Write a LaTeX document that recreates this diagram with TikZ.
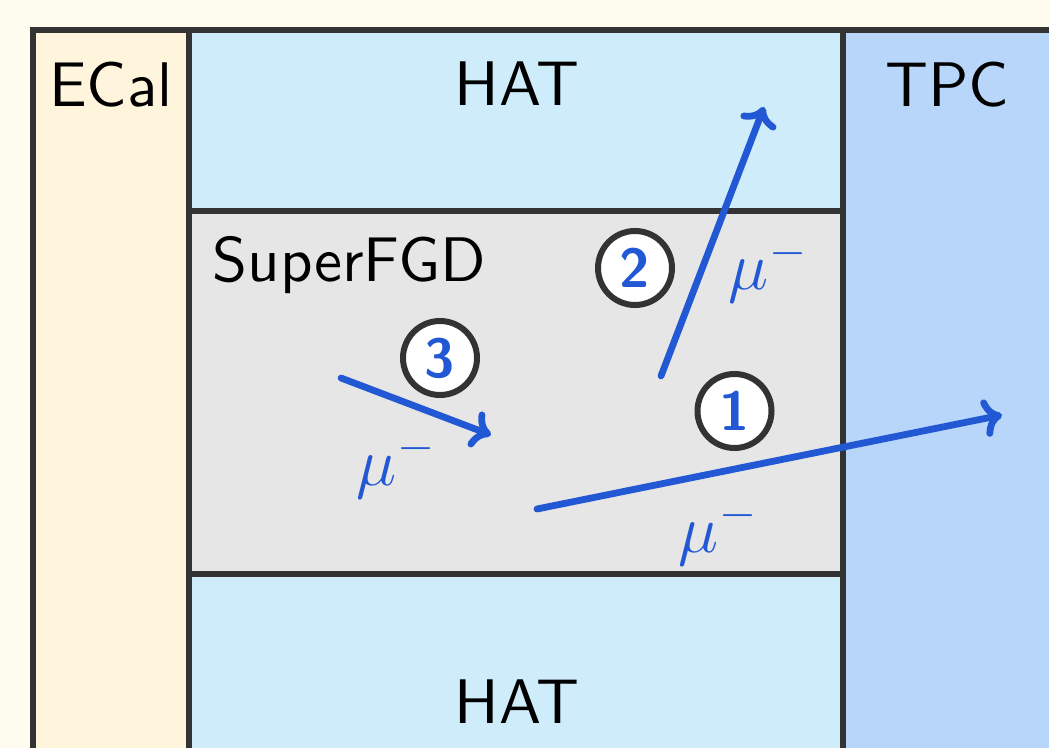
\RequirePackage{fix-cm}
\documentclass[tikz,border=0pt]{standalone}
\usepackage{fontspec}
\setsansfont{lmsans10-regular.otf}[BoldFont=lmsans10-bold.otf]
\usetikzlibrary{arrows.meta}
\definecolor{bgcream}{HTML}{FEFBEF}
\definecolor{ecalfill}{HTML}{FFF5DC}
\definecolor{hatfill}{HTML}{CFECFA}
\definecolor{fgdfill}{HTML}{E6E6E6}
\definecolor{tpcfill}{HTML}{B8D6FA}
\definecolor{border}{HTML}{333333}
\definecolor{track}{HTML}{2358D5}
\tikzset{
  box/.style={draw=border, line width=3pt},
  lbl/.style={font=\fontsize{31.5}{36}\selectfont\sffamily, text=black, inner sep=0pt},
  mulbl/.style={font=\fontsize{34}{40}\selectfont, text=track, inner sep=0pt},
  tracktip/.style={draw=track, line width=3.4pt, line cap=round, -{To[length=9.5pt,width=19pt,round]}},
  numcirc/.style={circle, draw=border, fill=white, line width=3pt, minimum size=37pt, inner sep=0pt,
    font=\fontsize{27.5}{30}\selectfont\sffamily\bfseries, text=track}
}
\begin{document}
\begin{tikzpicture}[x=0.5pt,y=-0.5pt]
\useasboundingbox (0,0) rectangle (1049,748);
\fill[bgcream] (0,0) rectangle (1049,748);
\begin{scope}
\clip (0,0) rectangle (1049,748);
% fills
\fill[ecalfill] (33,30) rectangle (189,800);
\fill[hatfill] (189,30) rectangle (843,211);
\fill[fgdfill] (189,211) rectangle (843,574);
\fill[hatfill] (189,574) rectangle (843,800);
\fill[tpcfill] (843,30) rectangle (1100,800);
% borders
\draw[box] (33,800) -- (33,30) -- (1100,30);
\draw[box] (189,30) -- (189,800);
\draw[box] (843,30) -- (843,800);
\draw[box] (189,211) -- (843,211);
\draw[box] (189,574) -- (843,574);
\end{scope}
% labels
\node[lbl, anchor=base] (ecal) at (111,107) {ECal};
\node[lbl, anchor=base] (hattop) at (517,106) {HAT};
\node[lbl, anchor=base] (tpc) at (947,107) {TPC};
\node[lbl, anchor=base] (hatbot) at (517,723) {HAT};
\node[lbl, anchor=base west] (sfgd) at (212,282) {SuperFGD};
% tracks
\coordinate (s1) at (537,509);
\coordinate (e1) at (1002,415);
\coordinate (s2) at (661,376);
\coordinate (e2) at (764,107);
\coordinate (s3) at (341,378);
\coordinate (e3) at (491,435);
\draw[tracktip] (s1) -- (e1);
\draw[tracktip] (s2) -- (e2);
\draw[tracktip] (s3) -- (e3);
% mu labels
\node[mulbl, anchor=base] (mu1) at (718,552) {$\mu^-$};
\node[mulbl, anchor=base] (mu2) at (768,290) {$\mu^-$};
\node[mulbl, anchor=base] (mu3) at (396,485) {$\mu^-$};
% numbered circles
\node[numcirc] (n1) at (734.5,411) {1};
\node[numcirc] (n2) at (635,268) {2};
\node[numcirc] (n3) at (440,358) {3};
\end{tikzpicture}
\end{document}
